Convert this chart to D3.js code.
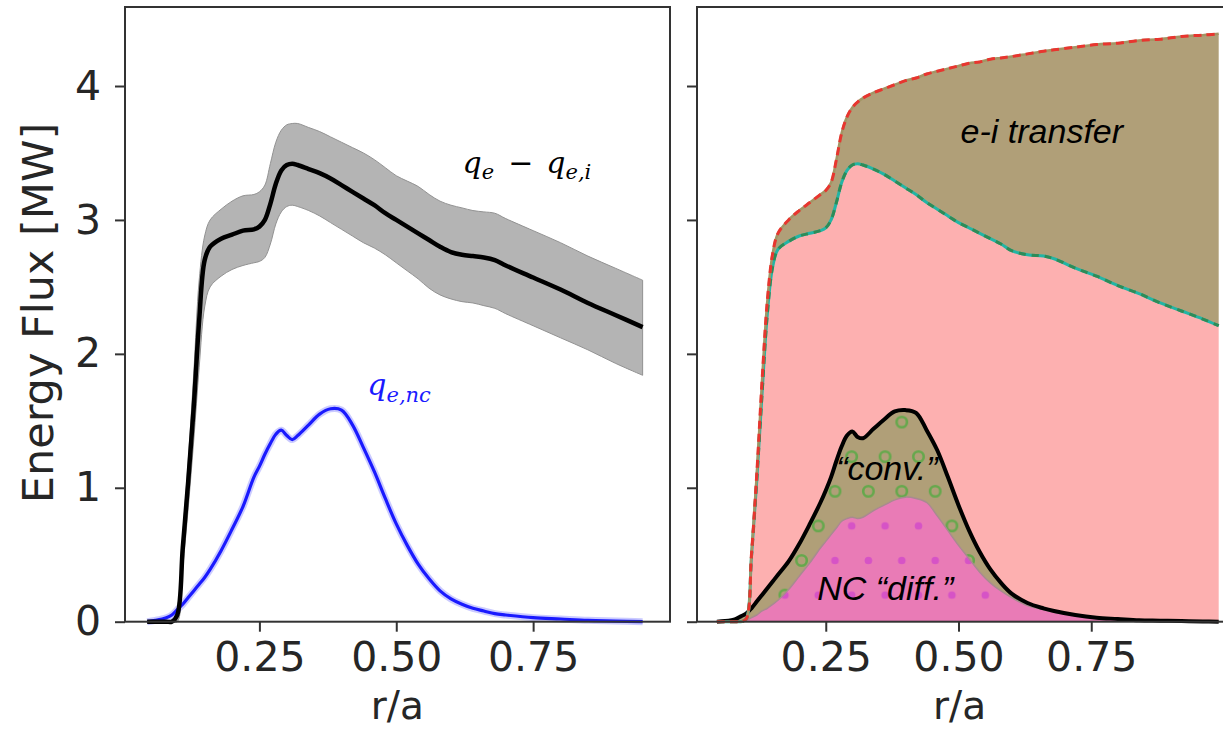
<!DOCTYPE html>
<html>
<head>
<meta charset="utf-8">
<script src="https://cdn.jsdelivr.net/npm/d3@7"></script>
<style>
  body { margin: 0; background: #fff; }
  .tick text { font-family: "DejaVu Sans", sans-serif; font-size: 41px; fill: #262626; }
  .tick line { stroke: #333; stroke-width: 2; }
</style>
</head>
<body>
<div id="chart"></div>
<script>
// left panel: q_e - q_e,i with its band, and q_e,nc
var rLeft = [0.045, 0.06, 0.08, 0.09, 0.10, 0.11, 0.12, 0.13, 0.14, 0.15, 0.16,
  0.18, 0.20, 0.22, 0.24, 0.25, 0.26, 0.27, 0.28, 0.29, 0.30, 0.31, 0.32,
  0.34, 0.36, 0.38, 0.40, 0.42, 0.44, 0.46, 0.48, 0.50, 0.52, 0.54, 0.56, 0.58,
  0.60, 0.62, 0.64, 0.66, 0.68, 0.70, 0.75, 0.80, 0.85, 0.90, 0.95];
var qeMinusQei = [0, 0, 0, 0, 0.05, 0.55, 1.05, 1.6, 2.25, 2.7, 2.8,
  2.86, 2.89, 2.92, 2.93, 2.95, 3.0, 3.12, 3.27, 3.37, 3.41, 3.42, 3.41,
  3.38, 3.35, 3.31, 3.26, 3.21, 3.16, 3.11, 3.05, 3.0, 2.95, 2.90, 2.85, 2.80,
  2.76, 2.74, 2.73, 2.72, 2.70, 2.66, 2.57, 2.48, 2.38, 2.29, 2.2];
var qeUpper = [0, 0, 0, 0, 0.1, 0.65, 1.2, 1.85, 2.55, 2.88, 3.0,
  3.08, 3.14, 3.18, 3.19, 3.21, 3.26, 3.42, 3.58, 3.67, 3.71, 3.72, 3.72,
  3.69, 3.66, 3.62, 3.58, 3.54, 3.50, 3.45, 3.39, 3.33, 3.29, 3.25, 3.19, 3.14,
  3.11, 3.09, 3.07, 3.06, 3.05, 3.01, 2.92, 2.83, 2.73, 2.64, 2.55];
var qeLower = [0, 0, 0, 0, 0.0, 0.4, 0.85, 1.35, 1.9, 2.35, 2.5,
  2.58, 2.63, 2.66, 2.68, 2.69, 2.72, 2.82, 2.97, 3.06, 3.1, 3.11, 3.1,
  3.07, 3.03, 2.98, 2.93, 2.88, 2.83, 2.79, 2.74, 2.68, 2.62, 2.56, 2.49, 2.44,
  2.41, 2.39, 2.38, 2.36, 2.34, 2.30, 2.21, 2.12, 2.03, 1.93, 1.84];
var qeNc = [0.0, 0.01, 0.03, 0.05, 0.09, 0.13, 0.18, 0.23, 0.28, 0.33, 0.39,
  0.53, 0.69, 0.86, 1.08, 1.16, 1.25, 1.33, 1.40, 1.43, 1.39, 1.36, 1.39,
  1.47, 1.55, 1.59, 1.58, 1.47, 1.30, 1.12, 0.92, 0.73, 0.57, 0.43, 0.32, 0.23,
  0.17, 0.13, 0.10, 0.08, 0.06, 0.05, 0.03, 0.02, 0.01, 0.005, 0.0];

// right panel: stacked contributions
var rRight = [0.045, 0.06, 0.08, 0.09, 0.10, 0.11, 0.12, 0.13, 0.14, 0.15, 0.16,
  0.18, 0.20, 0.22, 0.24, 0.25, 0.26, 0.27, 0.28, 0.29, 0.30, 0.31, 0.32,
  0.34, 0.36, 0.38, 0.40, 0.42, 0.44, 0.46, 0.48, 0.50, 0.52, 0.54, 0.56, 0.58, 0.60,
  0.63, 0.66, 0.68, 0.72, 0.76, 0.80, 0.84, 0.88, 0.92, 0.96, 0.99];
var qeTotal = [0, 0, 0, 0, 0.02, 0.5, 1.1, 1.8, 2.4, 2.75, 2.9,
  3.0, 3.07, 3.13, 3.19, 3.22, 3.28, 3.45, 3.65, 3.77, 3.84, 3.88, 3.91,
  3.95, 3.98, 4.01, 4.04, 4.06, 4.09, 4.11, 4.13, 4.15, 4.17, 4.18, 4.2, 4.21, 4.22,
  4.24, 4.26, 4.27, 4.29, 4.31, 4.32, 4.34, 4.35, 4.37, 4.38, 4.39];
var qeHeat = [0, 0, 0, 0, 0.02, 0.48, 1.05, 1.7, 2.3, 2.65, 2.78,
  2.84, 2.88, 2.9, 2.92, 2.94, 3.0, 3.13, 3.28, 3.37, 3.41, 3.42, 3.41,
  3.38, 3.34, 3.29, 3.24, 3.19, 3.13, 3.08, 3.03, 2.98, 2.94, 2.9, 2.86, 2.82, 2.77,
  2.74, 2.73, 2.71, 2.64, 2.58, 2.51, 2.45, 2.38, 2.32, 2.26, 2.21];
var ncTotal = [0, 0.005, 0.02, 0.04, 0.06, 0.1, 0.15, 0.2, 0.25, 0.3, 0.35,
  0.45, 0.58, 0.73, 0.89, 0.98, 1.08, 1.2, 1.31, 1.39, 1.42, 1.38, 1.37,
  1.44, 1.51, 1.57, 1.58, 1.56, 1.43, 1.28, 1.08, 0.87, 0.68, 0.52, 0.39, 0.29, 0.21,
  0.14, 0.1, 0.08, 0.05, 0.03, 0.02, 0.01, 0.008, 0.005, 0.002, 0];
var ncDiff = [0, 0, 0, 0.005, 0.01, 0.03, 0.05, 0.08, 0.1, 0.13, 0.16,
  0.24, 0.34, 0.44, 0.55, 0.6, 0.65, 0.7, 0.75, 0.77, 0.78, 0.77, 0.78,
  0.83, 0.87, 0.91, 0.93, 0.92, 0.89, 0.79, 0.68, 0.57, 0.47, 0.37, 0.29, 0.23, 0.18,
  0.12, 0.09, 0.07, 0.05, 0.03, 0.02, 0.01, 0.005, 0.003, 0.001, 0];

var yTicks = [0, 1, 2, 3, 4];
var xTicks = [0.25, 0.5, 0.75];
var yLabel = "Energy Flux [MW]";
var xLabel = "r/a";

var svg = d3.select("#chart").append("svg")
  .attr("width", 1223)
  .attr("height", 729);

var xLeft = d3.scaleLinear().domain([0.0045, 1.0]).range([125, 670]);
var xRight = d3.scaleLinear().domain([0.0075, 1.0]).range([697, 1224]);
var y = d3.scaleLinear().domain([0, 4.59]).range([621.7, 7]);
var curve = d3.curveCatmullRom.alpha(0.5);

// hatch patterns for the NC parts
var defs = svg.append("defs");
var circ = defs.append("pattern").attr("id", "rings")
  .attr("patternUnits", "userSpaceOnUse").attr("width", 33.4).attr("height", 69.2)
  .attr("patternTransform", "translate(843.35,439.4)");
[[8.35, 17.3], [25.05, 51.9]].forEach(function(p) {
  circ.append("circle").attr("cx", p[0]).attr("cy", p[1]).attr("r", 5.2)
    .attr("fill", "none").attr("stroke", "#65a84c").attr("stroke-width", 2.6);
});
var dots = defs.append("pattern").attr("id", "dots")
  .attr("patternUnits", "userSpaceOnUse").attr("width", 33.4).attr("height", 69.2)
  .attr("patternTransform", "translate(843.35,439.4)");
[[8.35, 17.3], [25.05, 51.9]].forEach(function(p) {
  dots.append("circle").attr("cx", p[0]).attr("cy", p[1]).attr("r", 3.8)
    .attr("fill", "#d653c6");
});

// ---------- left panel ----------
var left = svg.append("g");
var idxL = d3.range(rLeft.length);

left.append("path")
  .attr("d", d3.area().curve(curve)
    .x(i => xLeft(rLeft[i])).y0(i => y(qeLower[i])).y1(i => y(qeUpper[i]))(idxL))
  .attr("fill", "#b4b4b4")
  .attr("stroke", "#929292")
  .attr("stroke-width", 1);

var lineL = d3.line().curve(curve).x(i => xLeft(rLeft[i]));

left.append("path")
  .attr("d", lineL.y(i => y(qeNc[i]))(idxL))
  .attr("fill", "none").attr("stroke", "#6a6aff").attr("stroke-opacity", 0.35)
  .attr("stroke-width", 7);
left.append("path")
  .attr("d", lineL.y(i => y(qeNc[i]))(idxL))
  .attr("fill", "none").attr("stroke", "#1a1aff").attr("stroke-width", 3.2);

left.append("path")
  .attr("d", lineL.y(i => y(qeMinusQei[i]))(idxL))
  .attr("fill", "none").attr("stroke", "#000").attr("stroke-width", 4.5);

// ---------- right panel ----------
var right = svg.append("g");
var idxR = d3.range(rRight.length);
var areaR = d3.area().curve(curve).x(i => xRight(rRight[i]));
var lineR = d3.line().curve(curve).x(i => xRight(rRight[i]));

right.append("path")
  .attr("d", areaR.y0(y(0)).y1(i => y(qeHeat[i]))(idxR))
  .attr("fill", "#fdb0b0");
right.append("path")
  .attr("d", areaR.y0(i => y(qeHeat[i])).y1(i => y(qeTotal[i]))(idxR))
  .attr("fill", "#b09f78");

var convD = areaR.y0(i => y(ncDiff[i])).y1(i => y(ncTotal[i]))(idxR);
right.append("path").attr("d", convD).attr("fill", "#b09f78");
right.append("path").attr("d", convD).attr("fill", "url(#rings)");

var diffD = areaR.y0(y(0)).y1(i => y(ncDiff[i]))(idxR);
right.append("path").attr("d", diffD).attr("fill", "#e97bb6");
right.append("path").attr("d", diffD).attr("fill", "url(#dots)");
right.append("path")
  .attr("d", lineR.y(i => y(ncDiff[i]))(idxR))
  .attr("fill", "none").attr("stroke", "#a88a90").attr("stroke-width", 1.5);

right.append("path")
  .attr("d", lineR.y(i => y(ncTotal[i]))(idxR))
  .attr("fill", "none").attr("stroke", "#000").attr("stroke-width", 4);

right.append("path")
  .attr("d", lineR.y(i => y(qeHeat[i]))(idxR))
  .attr("fill", "none").attr("stroke", "#22b5a5").attr("stroke-width", 3);
right.append("path")
  .attr("d", lineR.y(i => y(qeHeat[i]))(idxR))
  .attr("fill", "none").attr("stroke", "#2e8b57").attr("stroke-width", 3)
  .attr("stroke-dasharray", "7,6");

right.append("path")
  .attr("d", lineR.y(i => y(qeTotal[i]))(idxR))
  .attr("fill", "none").attr("stroke", "#a39565").attr("stroke-width", 2.5);
right.append("path")
  .attr("d", lineR.y(i => y(qeTotal[i]))(idxR))
  .attr("fill", "none").attr("stroke", "#e8352f").attr("stroke-width", 3)
  .attr("stroke-dasharray", "8,5");

// ---------- axes & frames ----------
function frame(x) {
  svg.append("rect")
    .attr("x", x.range()[0]).attr("y", y.range()[1])
    .attr("width", x.range()[1] - x.range()[0])
    .attr("height", y.range()[0] - y.range()[1])
    .attr("fill", "none").attr("stroke", "#333").attr("stroke-width", 2);
}
frame(xLeft);
frame(xRight);

svg.append("g").attr("transform", "translate(125,0)")
  .call(d3.axisLeft(y).tickValues(yTicks).tickSize(10).tickPadding(14).tickFormat(d3.format("d")))
  .call(g => g.select(".domain").remove());
svg.append("g").attr("transform", "translate(697,0)")
  .call(d3.axisLeft(y).tickValues(yTicks).tickSize(10).tickFormat(""))
  .call(g => g.select(".domain").remove());
[xLeft, xRight].forEach(function(x) {
  svg.append("g").attr("transform", "translate(0," + y(0) + ")")
    .call(d3.axisBottom(x).tickValues(xTicks).tickSize(10).tickPadding(10).tickFormat(d3.format(".2f")))
    .call(g => g.select(".domain").remove());
});

// axis labels
svg.append("text")
  .attr("transform", "translate(53," + 313 + ") rotate(-90)")
  .attr("text-anchor", "middle")
  .style("font-family", "DejaVu Sans, sans-serif").style("font-size", "43px").style("fill", "#262626")
  .text(yLabel);
[xLeft, xRight].forEach(function(x) {
  svg.append("text")
    .attr("x", (x(0.25) + x(0.75)) / 2 + 1).attr("y", 719)
    .attr("text-anchor", "middle")
    .style("font-family", "DejaVu Sans, sans-serif").style("font-size", "39px").style("fill", "#262626")
    .text(xLabel);
});

// annotations
function mathLabel(x, yy, parts, color) {
  var t = svg.append("text").attr("x", x).attr("y", yy)
    .style("font-family", "DejaVu Serif, serif").style("font-style", "italic")
    .style("fill", color);
  parts.forEach(function(p) {
    t.append("tspan").attr("dy", p.dy || 0).attr("dx", p.dx || 0)
      .style("font-size", p.size + "px").text(p.s);
  });
}
mathLabel(xLeft(0.621), y(3.35), [
  {s: "q", size: 30},
  {s: "e", size: 21, dy: 6},
  {s: "\u2212", size: 30, dy: -6, dx: 14},
  {s: "q", size: 30, dx: 13},
  {s: "e,i", size: 21, dy: 6}
], "#000");
mathLabel(xLeft(0.447), y(1.69), [
  {s: "q", size: 30},
  {s: "e,nc", size: 21, dy: 7}
], "#1a1aff");

function note(x, yy, s) {
  svg.append("text").attr("x", x).attr("y", yy).attr("text-anchor", "middle")
    .style("font-family", "Liberation Sans, Arial, sans-serif").style("font-style", "italic")
    .style("font-size", "34px").style("fill", "#000").text(s);
}
note(xRight(0.657), y(3.574), "e-i transfer");
note(xRight(0.365), y(1.058), "\u201cconv.\u201d");
note(xRight(0.362), y(0.162), "NC \u201cdiff.\u201d");
</script>
</body>
</html>
